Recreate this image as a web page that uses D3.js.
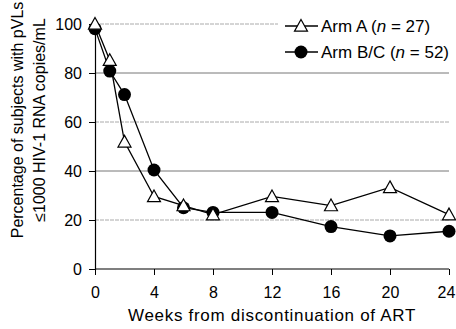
<!DOCTYPE html>
<html>
    <head>
        <meta charset="utf-8">
        <style>
            body{ margin:0; background:#fff; }
            text{ font-family: "Liberation Sans", Arial, sans-serif; }
        </style>
    </head>
    <body>
        <svg id="chart" width="456" height="329"></svg>
        <script src="https://d3js.org/d3.v7.min.js"></script>
        <script>
            var weeks = [0, 1, 2, 4, 6, 8, 12, 16, 20, 24];
            var armA = [100, 85.2, 51.9, 29.6, 25.9, 22.2, 29.6, 25.9, 33.3, 22.2];
            var armBC = [98.1, 80.8, 71.2, 40.4, 25.0, 23.1, 23.1, 17.3, 13.5, 15.4];
            var xTicks = [0, 4, 8, 12, 16, 20, 24];
            var yTicks = [0, 20, 40, 60, 80, 100];
            var legendLabels = ["Arm A (", "Arm B/C ("];
            var legendN = ["27", "52"];

            var svg = d3.select("#chart");
            var x = d3.scaleLinear().domain([0, 24]).range([95, 449]);
            var y = d3.scaleLinear().domain([0, 100]).range([269, 24]);

            // grid lines
            svg.append("g").selectAll("line")
                .data(yTicks.filter(function(d){ return d > 0; }))
                .enter()
                .append("line")
                .attr("x1", x(0))
                .attr("x2", x(24))
                .attr("y1", function(d){ return y(d); })
                .attr("y2", function(d){ return y(d); })
                .attr("stroke", function(d){ return d % 40 == 0 ? "#777" : "#aaa"; })
                .attr("stroke-dasharray", function(d){ return d % 40 == 0 ? null : "4,1"; })
                .attr("stroke-width", 1);

            // axes
            var xAxis = svg.append("g")
                .attr("transform", "translate(0," + y(0) + ")")
                .call(d3.axisBottom(x).tickValues(xTicks).tickSize(6).tickPadding(12));
            var yAxis = svg.append("g")
                .attr("transform", "translate(" + x(0) + ",0)")
                .call(d3.axisLeft(y).tickValues(yTicks).tickSize(6).tickPadding(7));
            [xAxis, yAxis].forEach(function(a){
                a.select(".domain").attr("stroke", "#000").attr("stroke-width", 1.2);
                a.selectAll(".tick line").attr("stroke", "#000");
                a.selectAll(".tick text").attr("font-size", 16).attr("fill", "#000")
                    .style("font-family", "'Liberation Sans', Arial, sans-serif");
            });
            xAxis.select(".domain").attr("d", "M" + x(0) + ",0H" + x(24));
            // keep last label inside the frame
            xAxis.selectAll(".tick text").filter(function(d){ return d == 24; }).attr("x", -3);

            // axis titles
            svg.append("text")
                .attr("x", 272)
                .attr("y", 321)
                .attr("text-anchor", "middle")
                .attr("font-size", 17)
                .attr("letter-spacing", 0.7)
                .text("Weeks from discontinuation of ART");
            var yt = svg.append("text")
                .attr("transform", "translate(23,120) rotate(-90)")
                .attr("text-anchor", "middle")
                .attr("font-size", 16);
            yt.append("tspan").attr("x", 0).attr("y", 0).text("Percentage of subjects with pVLs");
            yt.append("tspan").attr("x", 0).attr("y", 22).text("\u22641000 HIV-1 RNA copies/mL");

            var line = d3.line()
                .x(function(d, i){ return x(weeks[i]); })
                .y(function(d){ return y(d); });

            function triangle(cx, cy){
                var s = 6.5;
                return "M" + cx + "," + (cy - s) + "L" + (cx + s) + "," + (cy + s * 0.8) + "L" + (cx - s) + "," + (cy + s * 0.8) + "Z";
            }

            svg.append("path").attr("d", line(armBC)).attr("fill", "none").attr("stroke", "#000").attr("stroke-width", 1.3);
            svg.append("path").attr("d", line(armA)).attr("fill", "none").attr("stroke", "#000").attr("stroke-width", 1.3);

            svg.selectAll(".dotBC")
                .data(armBC)
                .enter()
                .append("circle")
                .attr("cx", function(d, i){ return x(weeks[i]); })
                .attr("cy", function(d){ return y(d); })
                .attr("r", 6.5)
                .attr("fill", "#000");

            svg.selectAll(".triA")
                .data(armA)
                .enter()
                .append("path")
                .attr("d", function(d, i){ return triangle(x(weeks[i]), y(d)); })
                .attr("fill", "#fff")
                .attr("stroke", "#000")
                .attr("stroke-width", 1.2);

            // legend
            var lg = svg.append("g");
            lg.append("rect").attr("x", 278).attr("y", 12).attr("width", 174).attr("height", 52).attr("fill", "#fff");
            [0, 1].forEach(function(i){
                var ly = 26 + i * 26;
                lg.append("line").attr("x1", 285).attr("x2", 318).attr("y1", ly).attr("y2", ly)
                    .attr("stroke", "#000").attr("stroke-width", 1.3);
                if(i == 0){
                    lg.append("path").attr("d", triangle(301, ly)).attr("fill", "#fff").attr("stroke", "#000").attr("stroke-width", 1.2);
                } else {
                    lg.append("circle").attr("cx", 301).attr("cy", ly).attr("r", 6.5).attr("fill", "#000");
                }
                var t = lg.append("text").attr("x", 321).attr("y", ly + 6).attr("font-size", 17);
                t.append("tspan").text(legendLabels[i]);
                t.append("tspan").attr("font-style", "italic").text("n");
                t.append("tspan").text(" = " + legendN[i] + ")");
            });
        </script>
    </body>
</html>
